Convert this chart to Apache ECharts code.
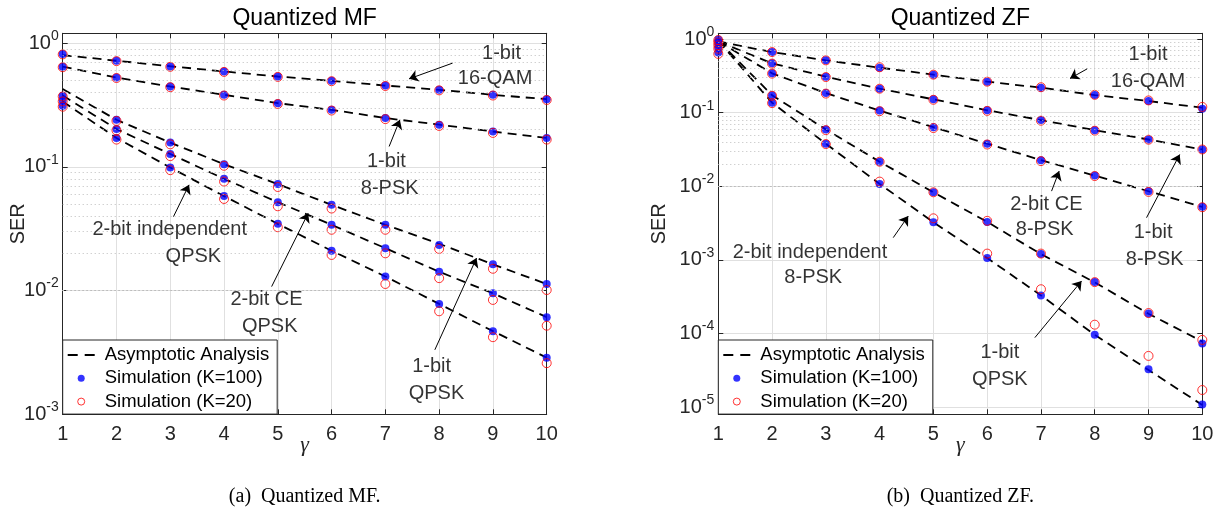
<!DOCTYPE html>
<html>
<head>
<meta charset="utf-8">
<script src="https://cdn.jsdelivr.net/npm/echarts@6/dist/echarts.min.js"></script>
<style>
  html, body { margin: 0; padding: 0; background: #fff; }
  #chart { width: 1217px; height: 527px; }
</style>
</head>
<body>
<div id="chart"></div>
<script>
// gamma values on the x axis
const gamma = [1, 2, 3, 4, 5, 6, 7, 8, 9, 10];

// Quantized MF: 1-bit 16-QAM, 1-bit 8-PSK, 1-bit QPSK, 2-bit CE QPSK, 2-bit independent QPSK
const mfAsym = [
  [0.80, 0.72, 0.65, 0.59, 0.537, 0.496, 0.454, 0.419, 0.382, 0.352],
  [0.645, 0.527, 0.446, 0.382, 0.327, 0.289, 0.248, 0.219, 0.193, 0.171],
  [0.425, 0.24, 0.157, 0.105, 0.0725, 0.0493, 0.034, 0.0239, 0.0163, 0.0113],
  [0.377, 0.202, 0.127, 0.080, 0.0518, 0.034, 0.022, 0.0142, 0.0095, 0.0061],
  [0.337, 0.171, 0.0987, 0.058, 0.0346, 0.021, 0.013, 0.0078, 0.0047, 0.00287]
];
const mfSim100 = [
  [0.815, 0.719, 0.647, 0.59, 0.537, 0.496, 0.454, 0.419, 0.382, 0.352],
  [0.643, 0.527, 0.446, 0.382, 0.327, 0.289, 0.248, 0.219, 0.193, 0.171],
  [0.375, 0.24, 0.157, 0.105, 0.0725, 0.0493, 0.034, 0.0234, 0.0163, 0.0113],
  [0.343, 0.202, 0.127, 0.080, 0.0518, 0.034, 0.022, 0.0142, 0.0095, 0.0061],
  [0.311, 0.171, 0.0987, 0.058, 0.0346, 0.021, 0.013, 0.0078, 0.0047, 0.00287]
];
const mfSim20 = [
  [0.81, 0.715, 0.643, 0.585, 0.533, 0.492, 0.45, 0.415, 0.377, 0.347],
  [0.638, 0.522, 0.44, 0.377, 0.322, 0.285, 0.243, 0.214, 0.188, 0.166],
  [0.37, 0.235, 0.152, 0.102, 0.0687, 0.046, 0.031, 0.0217, 0.015, 0.0101],
  [0.338, 0.197, 0.122, 0.076, 0.048, 0.031, 0.020, 0.0126, 0.0084, 0.0052],
  [0.306, 0.166, 0.094, 0.055, 0.0325, 0.0194, 0.0113, 0.0068, 0.0042, 0.00259]
];

// Quantized ZF: 1-bit 16-QAM, 1-bit 8-PSK, 2-bit CE 8-PSK, 1-bit QPSK, 2-bit independent 8-PSK
const zfAsym = [
  [0.93, 0.667, 0.515, 0.41, 0.329, 0.264, 0.219, 0.174, 0.144, 0.117],
  [0.93, 0.469, 0.309, 0.212, 0.152, 0.108, 0.0794, 0.058, 0.0433, 0.0317],
  [0.93, 0.343, 0.185, 0.107, 0.0637, 0.0379, 0.0227, 0.014, 0.00858, 0.00526],
  [0.95, 0.173, 0.0593, 0.0216, 0.0083, 0.00329, 0.0012, 0.000496, 0.000186, 0.000078],
  [0.95, 0.137, 0.0379, 0.0108, 0.00325, 0.00106, 0.00033, 0.000096, 0.000032, 0.0000107]
];
const zfSim100 = [
  [0.99, 0.667, 0.515, 0.41, 0.329, 0.264, 0.219, 0.174, 0.144, 0.113],
  [0.92, 0.469, 0.309, 0.212, 0.152, 0.108, 0.0794, 0.058, 0.0433, 0.0317],
  [0.84, 0.343, 0.185, 0.107, 0.0637, 0.0379, 0.0227, 0.014, 0.0086, 0.0053],
  [0.76, 0.173, 0.0593, 0.0216, 0.0083, 0.00329, 0.0012, 0.0005, 0.000188, 0.000073],
  [0.66, 0.137, 0.0379, 0.0108, 0.00325, 0.00106, 0.00033, 0.000096, 0.0000327, 0.0000109]
];
const zfSim20 = [
  [0.97, 0.667, 0.515, 0.415, 0.329, 0.264, 0.222, 0.175, 0.147, 0.12],
  [0.90, 0.465, 0.305, 0.212, 0.15, 0.106, 0.078, 0.057, 0.043, 0.0317],
  [0.82, 0.34, 0.182, 0.105, 0.062, 0.037, 0.022, 0.0138, 0.0084, 0.0052],
  [0.74, 0.17, 0.058, 0.0216, 0.0083, 0.0034, 0.00122, 0.0005, 0.00019, 0.000082],
  [0.63, 0.135, 0.0375, 0.0116, 0.00368, 0.00122, 0.0004, 0.000132, 0.0000497, 0.0000171]
];

// annotation text lines: [text, gamma, SER]
const mfNotes = [
  ['1-bit', 9.16, 0.83], ['16-QAM', 9.04, 0.521],
  ['1-bit', 7.02, 0.110], ['8-PSK', 7.08, 0.0673],
  ['2-bit independent', 2.99, 0.031], ['QPSK', 3.43, 0.0188],
  ['2-bit CE', 4.79, 0.0084], ['QPSK', 4.85, 0.00512],
  ['1-bit', 7.86, 0.00243], ['QPSK', 7.95, 0.00148]
];
const zfNotes = [
  ['1-bit', 8.99, 0.618], ['16-QAM', 8.99, 0.268],
  ['2-bit CE', 7.10, 0.00569], ['8-PSK', 7.07, 0.0026],
  ['1-bit', 9.085, 0.00235], ['8-PSK', 9.115, 0.00102],
  ['2-bit independent', 2.705, 0.00126], ['8-PSK', 2.766, 0.000575],
  ['1-bit', 6.236, 0.0000552], ['QPSK', 6.236, 0.0000239]
];
// arrows: [fromGamma, fromSER, toGamma, toSER]
const mfArrows = [
  [8.25, 0.689, 7.44, 0.514],
  [7.07, 0.146, 7.27, 0.24],
  [3.06, 0.0396, 3.35, 0.0715],
  [4.885, 0.01077, 5.565, 0.0422],
  [7.92, 0.00332, 8.695, 0.0183]
];
const zfArrows = [
  [7.86, 0.395, 7.54, 0.292],
  [7.197, 0.00861, 7.338, 0.0161],
  [8.963, 0.00375, 9.58, 0.0271],
  [4.253, 0.00201, 4.532, 0.00394],
  [6.887, 0.0000881, 7.755, 0.000518]
];

const SANS = '"Liberation Sans", Arial, Helvetica, sans-serif';
const SERIF = '"Liberation Serif", "Times New Roman", serif';
const AX = '#262626';

const chart = echarts.init(document.getElementById('chart'));

function minorValues(lo, hi) {
  const out = [];
  for (let e = -6; e <= 0; e++) {
    for (let k = 2; k <= 9; k++) {
      const v = k * Math.pow(10, e);
      if (v >= lo && v <= hi) out.push({ yAxis: v });
    }
  }
  return out;
}

function supLabel(v) {
  const l = Math.log10(v);
  const e = Math.round(l);
  if (Math.abs(l - e) > 1e-6) return '';
  return '{b|10}{s|' + e + '}';
}

const grids = [];
const xAxes = [];
const yAxes = [];
const series = [];

function panel(p, left, yMin, yMax, asym, sim100, sim20, notes, arrows, nameGap) {
  grids.push({ left: left, top: 33.3, width: 484, height: 381, outerBoundsMode: 'none' });
  xAxes.push({
    gridIndex: p, type: 'value', min: 1, max: 10, interval: 1,
    axisLine: { lineStyle: { color: AX, width: 1 } },
    axisTick: { inside: true, length: 5, lineStyle: { color: AX } },
    axisLabel: { color: AX, fontSize: 20, fontFamily: SANS, margin: 10 },
    splitLine: { show: true, lineStyle: { color: '#e0e0e0', width: 1 } },
    name: 'γ', nameLocation: 'middle', nameGap: 20, nameMoveOverlap: false,
    nameTextStyle: { color: AX, fontSize: 22, fontStyle: 'italic', fontFamily: SERIF }
  });
  xAxes.push({
    gridIndex: p, type: 'value', min: 1, max: 10, interval: 1, position: 'top',
    axisLine: { lineStyle: { color: AX, width: 1 } },
    axisTick: { inside: true, length: 5, lineStyle: { color: AX } },
    axisLabel: { show: false }, splitLine: { show: false }
  });
  yAxes.push({
    gridIndex: p, type: 'log', logBase: 10, min: yMin, max: yMax,
    axisLine: { show: true, lineStyle: { color: AX, width: 1 } },
    axisTick: { show: true, inside: true, length: 5, lineStyle: { color: AX } },
    axisLabel: {
      margin: 4, formatter: supLabel, showMinLabel: true, showMaxLabel: true,
      rich: {
        b: { fontSize: 20, color: AX, fontFamily: SANS, verticalAlign: 'bottom', lineHeight: 20 },
        s: { fontSize: 14, color: AX, fontFamily: SANS, verticalAlign: 'bottom', lineHeight: 14, padding: [0, 0, 10, 0] }
      }
    },
    splitLine: { show: true, lineStyle: { color: '#e0e0e0', width: 1 } },
    name: 'SER', nameLocation: 'middle', nameGap: nameGap, nameMoveOverlap: false,
    nameTextStyle: { color: AX, fontSize: 20, fontFamily: SANS }
  });
  yAxes.push({
    gridIndex: p, type: 'log', logBase: 10, min: yMin, max: yMax, position: 'right',
    axisLine: { show: true, lineStyle: { color: AX, width: 1 } },
    axisTick: { show: true, inside: true, length: 5, lineStyle: { color: AX } },
    axisLabel: { show: false }, splitLine: { show: false }
  });
  const xi = 2 * p, yi = 2 * p;

  // dotted minor grid lines of the log axis
  series.push({
    type: 'line', xAxisIndex: xi, yAxisIndex: yi, data: [], silent: true, z: 1,
    markLine: {
      silent: true, symbol: 'none', animation: false, label: { show: false },
      lineStyle: { color: '#bdbdbd', width: 1, type: [1, 3] },
      emphasis: { disabled: true },
      data: minorValues(yMin, yMax)
    }
  });

  asym.forEach(function (row) {
    series.push({
      name: 'Asymptotic Analysis', type: 'line', xAxisIndex: xi, yAxisIndex: yi,
      data: gamma.map(function (g, i) { return [g, row[i]]; }),
      symbol: 'none', silent: true, z: 2, animation: false,
      itemStyle: { color: '#000' },
      lineStyle: { color: '#000', width: 1.8, type: [9, 6] }
    });
  });

  const pts100 = [], pts20 = [];
  sim100.forEach(function (row) { gamma.forEach(function (g, i) { pts100.push([g, row[i]]); }); });
  sim20.forEach(function (row) { gamma.forEach(function (g, i) { pts20.push([g, row[i]]); }); });
  series.push({
    name: 'Simulation (K=100)', type: 'scatter', xAxisIndex: xi, yAxisIndex: yi,
    data: pts100, symbol: 'circle', symbolSize: 8, z: 3, silent: true, animation: false,
    itemStyle: { color: '#0000ff' }
  });
  series.push({
    name: 'Simulation (K=20)', type: 'scatter', xAxisIndex: xi, yAxisIndex: yi,
    data: pts20, symbol: 'circle', symbolSize: 9, z: 4, silent: true, animation: false,
    itemStyle: { color: 'rgba(0,0,0,0)', borderColor: '#ff0000', borderWidth: 1 }
  });

  // annotation texts and arrows
  series.push({
    name: 'notes' + p, type: 'scatter', xAxisIndex: xi, yAxisIndex: yi,
    data: notes.map(function (n) { return [n[1], n[2], n[0]]; }),
    symbolSize: 1, itemStyle: { color: 'rgba(0,0,0,0)' }, silent: true, z: 6, animation: false,
    label: {
      show: true, position: 'inside', color: '#000', fontSize: 20, fontFamily: SANS,
      formatter: function (prm) { return prm.data[2]; }
    }
  });
  series.push({
    name: 'arrows' + p, type: 'line', xAxisIndex: xi, yAxisIndex: yi, data: [], silent: true, z: 6,
    markLine: {
      silent: true, animation: false, symbol: ['none', 'arrow'], symbolSize: 9,
      label: { show: false }, emphasis: { disabled: true },
      lineStyle: { color: '#000', width: 1, type: 'solid' },
      data: arrows.map(function (a) { return [{ coord: [a[0], a[1]] }, { coord: [a[2], a[3]] }]; })
    }
  });
}

panel(0, 62.7, 0.001, 1.2, mfAsym, mfSim100, mfSim20, mfNotes, mfArrows, 34);
panel(1, 718.3, 0.000008, 1.2, zfAsym, zfSim100, zfSim20, zfNotes, zfArrows, 49);

function legendAt(left) {
  return {
    left: left, top: 340, orient: 'vertical', z: 10,
    padding: [5.5, 8, 3, 4], itemGap: 4.3, itemWidth: 27, itemHeight: 7,
    borderColor: AX, borderWidth: 1, backgroundColor: '#fff', selectedMode: false,
    textStyle: { color: '#000', fontSize: 18.5, fontFamily: SANS, padding: [0, 0, 0, 5] },
    lineStyle: { type: [10, 7], width: 2, color: '#000' },
    data: [
      { name: 'Asymptotic Analysis', itemStyle: { opacity: 0 } },
      { name: 'Simulation (K=100)', icon: 'circle', itemStyle: { color: '#0000ff' } },
      { name: 'Simulation (K=20)', icon: 'circle', itemStyle: { color: 'rgba(0,0,0,0)', borderColor: '#ff0000', borderWidth: 1 } }
    ]
  };
}

const titleStyle = { fontSize: 23, fontWeight: 'normal', color: '#000', fontFamily: SANS };
const capStyle = { fontSize: 20, fontWeight: 'normal', color: '#000', fontFamily: SERIF };

chart.setOption({
  animation: false,
  backgroundColor: '#fff',
  textStyle: { fontFamily: SANS },
  title: [
    { text: 'Quantized MF', left: 304.7, top: 7, textAlign: 'center', padding: 0, textStyle: titleStyle },
    { text: 'Quantized ZF', left: 960.3, top: 7, textAlign: 'center', padding: 0, textStyle: titleStyle },
    { text: '(a)  Quantized MF.', left: 304.7, top: 487, textAlign: 'center', padding: 0, textStyle: capStyle },
    { text: '(b)  Quantized ZF.', left: 960.3, top: 487, textAlign: 'center', padding: 0, textStyle: capStyle }
  ],
  legend: [legendAt(62.7), legendAt(718.3)],
  grid: grids,
  xAxis: xAxes,
  yAxis: yAxes,
  series: series
});
</script>
</body>
</html>
